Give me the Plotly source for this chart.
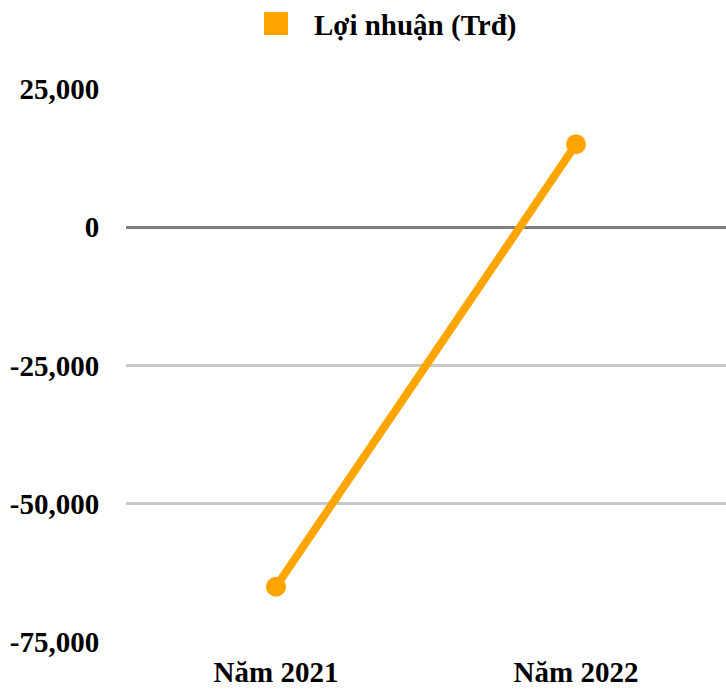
import plotly.graph_objects as go

categories = ["Năm 2021", "Năm 2022"]
profit = [-65000, 15000]
series_name = "Lợi nhuận (Trđ)"
tick_vals = [25000, 0, -25000, -50000, -75000]
tick_text = ["25,000", "0", "-25,000", "-50,000", "-75,000"]

ORANGE = "#FFA500"
FONT = "Liberation Serif, Times New Roman, serif"

W, H = 726, 689
ML, MR, MT, MB = 126, 0, 89, 47
PW, PH = W - ML - MR, H - MT - MB

def px_x(px):
    return (px - ML) / PW

def px_y(py):
    return (H - MB - py) / PH

fig = go.Figure()
fig.add_trace(go.Scatter(
    x=categories, y=profit, name=series_name, mode="lines+markers",
    line=dict(color=ORANGE, width=8),
    marker=dict(color=ORANGE, size=20, symbol="circle"),
    showlegend=False,
))

# legend: square swatch + label
fig.add_shape(type="rect", xref="paper", yref="paper",
              x0=px_x(264), x1=px_x(288), y0=px_y(35), y1=px_y(12),
              fillcolor=ORANGE, line=dict(width=0))
fig.add_annotation(xref="paper", yref="paper", x=px_x(312), y=px_y(25),
                   xanchor="left", yanchor="middle", showarrow=False,
                   text=series_name,
                   font=dict(family=FONT, size=29, color="black", weight="bold"))

fig.update_layout(
    width=W, height=H,
    margin=dict(l=ML, r=MR, t=MT, b=MB),
    paper_bgcolor="white", plot_bgcolor="white",
    font=dict(family=FONT, size=29, color="black", weight="bold"),
    showlegend=False,
    xaxis=dict(showgrid=False, showline=False, zeroline=False,
               ticks="outside", ticklen=4, tickcolor="rgba(0,0,0,0)",
               range=[-0.5, 1.5]),
    yaxis=dict(range=[-75000, 25000], tickvals=tick_vals, ticktext=tick_text,
               showgrid=True, gridcolor="#C8C8C8", gridwidth=3,
               zeroline=True, zerolinecolor="#808080", zerolinewidth=3,
               showline=False, ticks="outside", ticklen=20, tickcolor="rgba(0,0,0,0)"),
)

fig.write_html("out.html", config={"displayModeBar": False},
               post_script="document.body.style.margin='0';document.body.style.overflow='hidden';")
